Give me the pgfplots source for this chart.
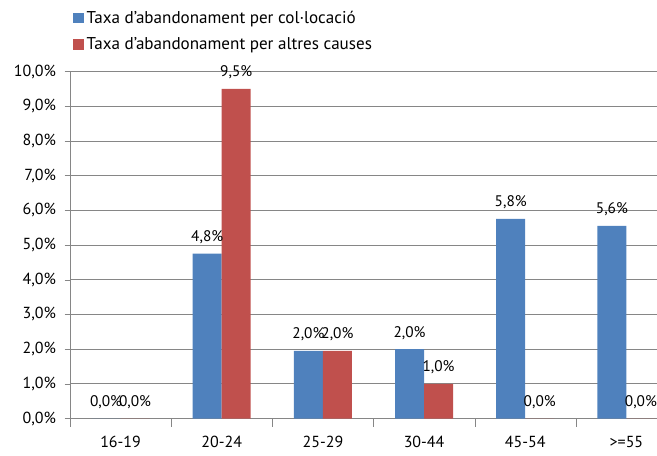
\documentclass[border=0pt]{standalone}
\usepackage{pgfplots}
\pgfplotsset{compat=1.18}
\usepackage{fontspec}
\setmainfont{PT Sans}
\definecolor{cblue}{RGB}{79,129,189}
\definecolor{cred}{RGB}{192,80,77}
\definecolor{gridc}{RGB}{134,134,134}
\begin{document}
\begin{tikzpicture}
\begin{axis}[
  at={(0,0)}, anchor=south west,
  scale only axis,
  width=455.25pt, height=260.25pt,
  xmin=-0.5, xmax=5.5,
  ymin=0, ymax=10,
  ybar=0pt, bar width=21.75pt,
  xtick={0,1,2,3,4,5},
  xticklabels={16-19,20-24,25-29,30-44,45-54,>=55},
  minor xtick={-0.5,0.5,1.5,2.5,3.5,4.5,5.5},
  major x tick style={draw=none},
  minor x tick style={gridc},
  minor tick length=6pt,
  x tick label style={yshift=-6pt},
  ytick={0,1,...,10},
  yticklabels={{0,0\%},{1,0\%},{2,0\%},{3,0\%},{4,0\%},{5,0\%},{6,0\%},{7,0\%},{8,0\%},{9,0\%},{10,0\%}},
  y tick label style={xshift=-3pt},
  major y tick style={gridc},
  major tick length=4pt,
  tick align=outside,
  tick pos=left,
  ymajorgrids,
  grid style={gridc, line width=0.5pt},
  axis line style={gridc, line width=0.5pt},
  tick label style={font=\fontsize{12pt}{14pt}\selectfont},
  nodes near coords={\pgfmathprintnumber[fixed,fixed zerofill,precision=1,use comma,assume math mode=true]{\pgfplotspointmeta}\%},
  nodes near coords style={font=\fontsize{11.5pt}{13pt}\selectfont, anchor=base, yshift=9pt, black},
  legend style={at={(0.005,1.183)}, anchor=north west, draw=none, fill=none,
    font=\fontsize{12.8pt}{14pt}\selectfont, row sep=5pt, inner sep=0pt,
    legend cell align=left},
  legend image code/.code={\fill[#1] (0pt,-4pt) rectangle (8pt,4pt);},
]
\addplot[fill=cblue, draw=none] coordinates {(0,0) (1,4.75) (2,1.95) (3,2.0) (4,5.75) (5,5.55)};
\addplot[fill=cred, draw=none] coordinates {(0,0) (1,9.5) (2,1.95) (3,1.0) (4,0) (5,0)};
\legend{Taxa d'abandonament per col·locació, Taxa d'abandonament per altres causes}
\end{axis}
\pgfresetboundingbox
\path[use as bounding box] (-52.5pt,-27.375pt) rectangle (440.25pt,313.875pt);
\end{tikzpicture}
\end{document}
